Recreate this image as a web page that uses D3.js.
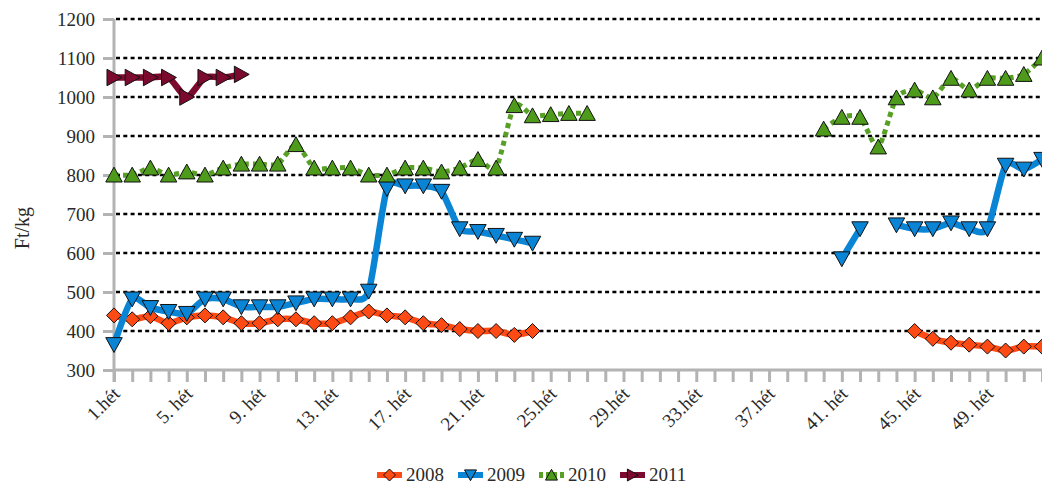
<!DOCTYPE html>
<html>
<head>
<meta charset="utf-8">
<script src="https://cdn.jsdelivr.net/npm/d3@7"></script>
<style>
  body { margin: 0; background: #fff; }
  svg { display: block; }
  .grid line { stroke: #000; stroke-width: 2.5; stroke-dasharray: 4,3.3; }
  .axis path, .axis line { stroke: #b3b3b3; stroke-width: 3; }
</style>
</head>
<body>
<div id="chart"></div>
<script>
// weeks 1..52, null = no data
var weeks = d3.range(1, 53)
var tickWeeks = [1, 5, 9, 13, 17, 21, 25, 29, 33, 37, 41, 45, 49]
var tickLabels = ['1.hét', '5. hét', '9. hét', '13. hét', '17. hét', '21. hét', '25.hét',
  '29.hét', '33.hét', '37.hét', '41. hét', '45. hét', '49. hét']
var yTicks = [300, 400, 500, 600, 700, 800, 900, 1000, 1100, 1200]

var v2008 = [440, 430, 438, 420, 435, 440, 435, 420, 420, 430, 430, 420, 420, 435, 450, 440,
  435, 420, 415, 405, 400, 400, 390, 400,
  null, null, null, null, null, null, null, null, null, null, null, null, null, null, null, null,
  null, null, null, null,
  400, 380, 370, 365, 360, 350, 360, 360]
var v2009 = [365, 482, 460, 450, 445, 482, 482, 462, 462, 462, 472, 482, 482, 482, 502, 765,
  772, 772, 758, 662, 655, 645, 635, 625,
  null, null, null, null, null, null, null, null, null, null, null, null, null, null, null, null,
  585, 662, null,
  672, 662, 662, 677, 662, 662, 825, 815, 840]
var v2010 = [800, 800, 818, 800, 808, 800, 818, 828, 828, 828, 878, 818, 818, 818, 800, 800,
  818, 818, 808, 818, 840, 818, 978, 952, 955, 958, 958,
  null, null, null, null, null, null, null, null, null, null, null, null,
  918, 948, 948, 872, 998, 1018, 998, 1048, 1018, 1048, 1048, 1058, 1100]
var v2011 = [1050, 1050, 1050, 1050, 1000, 1050, 1050, 1058]

var seriesNames = ['2008', '2009', '2010', '2011']
var seriesValues = [v2008, v2009, v2010, v2011]
var colors = ['#ff4a14', '#0a84d4', '#58a025', '#7b0a2e']
var fills = ['#ff4a14', '#0a84d4', '#4e9a1b', '#7b0a2e']
var shapes = ['diamond', 'down', 'up', 'right']

var serif = '"Liberation Serif", "Times New Roman", serif'
var textColor = '#2a2a2a'

var width = 1042, height = 484
var svg = d3.select('#chart').append('svg')
  .attr('width', width)
  .attr('height', height)
  .attr('font-family', serif)

var xScale = d3.scalePoint().domain(weeks).range([114, 1042])
var yScale = d3.scaleLinear().domain([300, 1200]).range([370, 19])

// gridlines
svg.append('g').attr('class', 'grid')
  .selectAll('line')
  .data(yTicks.slice(1))
  .enter().append('line')
  .attr('x1', 116).attr('x2', width)
  .attr('y1', function (d) { return yScale(d) })
  .attr('y2', function (d) { return yScale(d) })

// y axis
var yAxis = d3.axisLeft(yScale).tickValues(yTicks).tickSize(11).tickSizeOuter(0).tickPadding(8)
  .tickFormat(d3.format('d'))
var gy = svg.append('g').attr('class', 'axis')
  .attr('transform', 'translate(114,0)')
  .call(yAxis)
  .attr('font-family', serif)
  .attr('font-size', 19)
gy.select('.domain').attr('d', 'M0,' + yScale(1200) + 'V' + (yScale(300) + 12))
gy.selectAll('text').attr('fill', textColor)

// x axis
var xAxis = d3.axisBottom(xScale).tickSize(12).tickSizeOuter(0).tickFormat('')
var gx = svg.append('g').attr('class', 'axis')
  .attr('transform', 'translate(0,370)')
  .call(xAxis)
gx.select('.domain').attr('d', 'M114,0H' + width)

svg.append('g')
  .selectAll('text')
  .data(tickWeeks)
  .enter().append('text')
  .attr('text-anchor', 'end')
  .attr('font-size', 19)
  .attr('fill', textColor)
  .attr('transform', function (d) { return 'translate(' + (xScale(d) + 7) + ',395) rotate(-45)' })
  .text(function (d, i) { return tickLabels[i] })

// y title
svg.append('text')
  .attr('transform', 'translate(29,228) rotate(-90)')
  .attr('text-anchor', 'middle')
  .attr('font-size', 20)
  .attr('fill', textColor)
  .text('Ft/kg')

function markerPath(shape, s) {
  var h = s / 2
  if (shape === 'diamond') return 'M0,' + (-h) + 'L' + h + ',0L0,' + h + 'L' + (-h) + ',0Z'
  if (shape === 'down') return 'M' + (-h) + ',' + (-h * 0.85) + 'L' + h + ',' + (-h * 0.85) + 'L0,' + (h * 0.95) + 'Z'
  if (shape === 'up') return 'M' + (-h) + ',' + (h * 0.85) + 'L' + h + ',' + (h * 0.85) + 'L0,' + (-h * 0.95) + 'Z'
  return 'M' + (-h * 0.85) + ',' + (-h) + 'L' + (-h * 0.85) + ',' + h + 'L' + (h * 0.95) + ',0Z'
}

var line = d3.line()
  .defined(function (d) { return d.v != null })
  .x(function (d) { return xScale(d.w) })
  .y(function (d) { return yScale(d.v) })
  .curve(d3.curveCardinal.tension(0.3))

seriesNames.forEach(function (name, k) {
  var pts = seriesValues[k].map(function (v, i) { return { w: weeks[i], v: v } })
  var g = svg.append('g')
  g.append('path')
    .datum(pts)
    .attr('d', line)
    .attr('fill', 'none')
    .attr('stroke', colors[k])
    .attr('stroke-width', name === '2010' ? 5 : 6.5)
    .attr('stroke-dasharray', name === '2010' ? '5,4' : null)
    .attr('stroke-linejoin', 'round')
  g.selectAll('path.mk')
    .data(pts.filter(function (d) { return d.v != null }))
    .enter().append('path')
    .attr('class', 'mk')
    .attr('transform', function (d) { return 'translate(' + xScale(d.w) + ',' + yScale(d.v) + ')' })
    .attr('d', markerPath(shapes[k], name === '2008' ? 15 : 16.5))
    .attr('fill', fills[k])
    .attr('stroke', '#111')
    .attr('stroke-width', 1)
})

// legend
var legendX = [377, 458, 539, 620]
var legend = svg.append('g').attr('transform', 'translate(0,475)')
seriesNames.forEach(function (name, k) {
  var lg = legend.append('g').attr('transform', 'translate(' + legendX[k] + ',0)')
  lg.append('line')
    .attr('x1', 0).attr('x2', 25).attr('y1', 0).attr('y2', 0)
    .attr('stroke', colors[k])
    .attr('stroke-width', 6)
    .attr('stroke-dasharray', name === '2010' ? '4,3' : null)
  lg.append('path')
    .attr('transform', 'translate(12.5,0)')
    .attr('d', markerPath(shapes[k], 12))
    .attr('fill', fills[k])
    .attr('stroke', '#111')
    .attr('stroke-width', 1)
  lg.append('text')
    .attr('x', 29).attr('y', 6)
    .attr('font-size', 19)
    .attr('fill', textColor)
    .text(name)
})
</script>
</body>
</html>
